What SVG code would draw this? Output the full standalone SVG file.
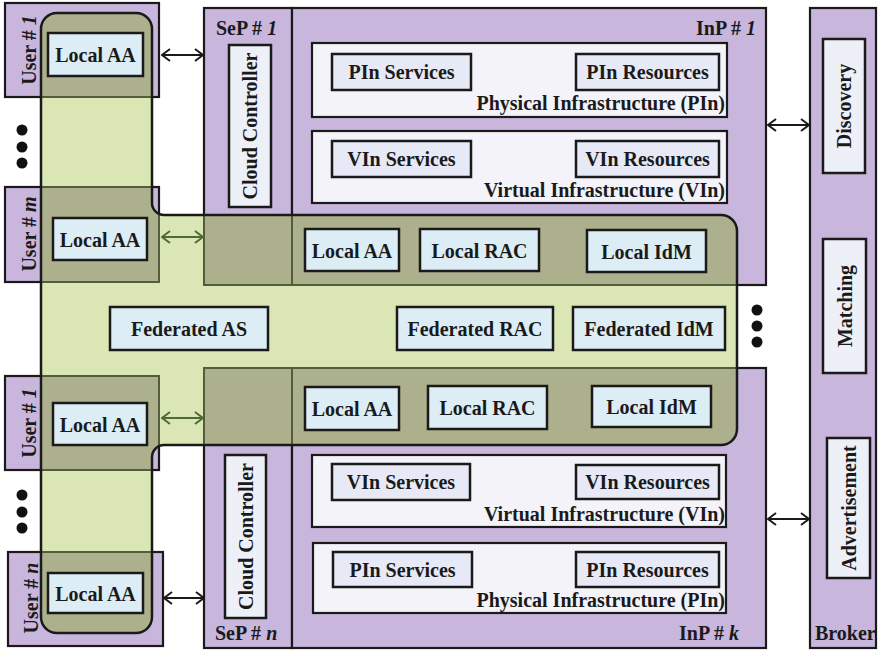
<svg xmlns="http://www.w3.org/2000/svg" width="879" height="651" viewBox="0 0 879 651">
<style>
text{font-family:"Liberation Serif","Times New Roman",serif;font-weight:bold;font-size:20px;fill:#1a1a1a}
.pur{fill:#c9b6dd;stroke:#1a1a1a;stroke-width:2.2}
.pstroke{fill:none;stroke:#1a1a1a;stroke-width:2.2}
.olive{fill:#adb08c}
.ostroke{fill:none;stroke:#535c3b;stroke-width:2}
.infra{fill:#f3f3f9;stroke:#1a1a1a;stroke-width:2.2}
.svc{fill:#e7eaf6;stroke:#1a1a1a;stroke-width:2.5}
.aa{fill:#dcedf5;stroke:#1a1a1a;stroke-width:2.5}
.cc{fill:#eef0f8;stroke:#1a1a1a;stroke-width:2.5}
.c{text-anchor:middle;dominant-baseline:central}
.e{text-anchor:end}
.blk{stroke:#1a1a1a;stroke-width:2;fill:none;marker-start:url(#ab);marker-end:url(#ab)}
.grn{stroke:#4e6b35;stroke-width:2;fill:none;marker-start:url(#ag);marker-end:url(#ag)}
.dot{fill:#111}
</style>
<defs>
<marker id="ab" viewBox="0 0 10 14" refX="9" refY="7" markerWidth="10" markerHeight="14" markerUnits="userSpaceOnUse" orient="auto-start-reverse">
<path d="M1,1 L9,7 L1,13" fill="none" stroke="#1a1a1a" stroke-width="2"/>
</marker>
<marker id="ag" viewBox="0 0 10 14" refX="9" refY="7" markerWidth="10" markerHeight="14" markerUnits="userSpaceOnUse" orient="auto-start-reverse">
<path d="M1,1 L9,7 L1,13" fill="none" stroke="#4e6b35" stroke-width="2"/>
</marker>
<path id="gshape" d="M57,13 H136 A16,16 0 0 1 152,29 V203 A12,12 0 0 0 164,215 H721 A16,16 0 0 1 737,231 V429 A16,16 0 0 1 721,445 H164 A12,12 0 0 0 152,457 V617 A16,16 0 0 1 136,633 H57 A16,16 0 0 1 41,617 V29 A16,16 0 0 1 57,13 Z"/>
<clipPath id="gclip"><use href="#gshape"/></clipPath>
</defs>

<!-- purple containers -->
<g id="containers">
<rect id="user1-top" class="pur" x="5" y="3" width="154" height="94"/>
<rect id="user-m" class="pur" x="5" y="187" width="154" height="95"/>
<rect id="user1-bot" class="pur" x="5" y="376" width="154" height="94"/>
<rect id="user-n" class="pur" x="8" y="552" width="155" height="94"/>
<rect id="sep1" class="pur" x="204" y="8" width="88" height="277"/>
<rect id="inp1" class="pur" x="292" y="8" width="474" height="277"/>
<rect id="sepn" class="pur" x="204" y="368" width="88" height="280"/>
<rect id="inpk" class="pur" x="292" y="368" width="474" height="280"/>
<rect id="broker" class="pur" x="810" y="8" width="66" height="640"/>
</g>

<!-- federation shape -->
<g id="federation">
<use href="#gshape" fill="#dae6b4"/>
<g clip-path="url(#gclip)">
<rect class="olive" x="5" y="3" width="154" height="94"/>
<rect class="olive" x="5" y="187" width="154" height="95"/>
<rect class="olive" x="5" y="376" width="154" height="94"/>
<rect class="olive" x="8" y="552" width="155" height="94"/>
<rect class="olive" x="204" y="8" width="562" height="277"/>
<rect class="olive" x="204" y="368" width="562" height="280"/>
<rect class="ostroke" x="5" y="3" width="154" height="94"/>
<rect class="ostroke" x="5" y="187" width="154" height="95"/>
<rect class="ostroke" x="5" y="376" width="154" height="94"/>
<rect class="ostroke" x="8" y="552" width="155" height="94"/>
<rect class="ostroke" x="204" y="8" width="88" height="277"/>
<rect class="ostroke" x="292" y="8" width="474" height="277"/>
<rect class="ostroke" x="204" y="368" width="88" height="280"/>
<rect class="ostroke" x="292" y="368" width="474" height="280"/>
</g>
<use href="#gshape" fill="none" stroke="#1a1a1a" stroke-width="2.5"/>
</g>

<!-- labels of containers -->
<g id="user-labels">
<text x="36" y="50" transform="rotate(-90 36 50)" text-anchor="middle">User # <tspan font-style="italic">1</tspan></text>
<text x="36" y="234" transform="rotate(-90 36 234)" text-anchor="middle">User # <tspan font-style="italic">m</tspan></text>
<text x="36" y="423" transform="rotate(-90 36 423)" text-anchor="middle">User # <tspan font-style="italic">1</tspan></text>
<text x="38" y="598" transform="rotate(-90 38 598)" text-anchor="middle">User # <tspan font-style="italic">n</tspan></text>
</g>
<g id="provider-labels">
<text x="216" y="35">SeP # <tspan font-style="italic">1</tspan></text>
<text x="756" y="35" class="e">InP # <tspan font-style="italic">1</tspan></text>
<text x="215" y="640">SeP # <tspan font-style="italic">n</tspan></text>
<text x="739" y="640" class="e">InP # <tspan font-style="italic">k</tspan></text>
<text x="815" y="640">Broker</text>
</g>

<!-- user local AA -->
<g id="user1-top-aa"><rect class="aa" x="48" y="33" width="95" height="43"/><text class="c" x="95.5" y="55">Local AA</text></g>
<g id="user-m-aa"><rect class="aa" x="53" y="218" width="94" height="42"/><text class="c" x="100" y="240">Local AA</text></g>
<g id="user1-bot-aa"><rect class="aa" x="53" y="403" width="94" height="42"/><text class="c" x="100" y="425">Local AA</text></g>
<g id="user-n-aa"><rect class="aa" x="48" y="573" width="95" height="40"/><text class="c" x="95.5" y="594">Local AA</text></g>

<!-- cloud controllers -->
<g id="cc1"><rect class="cc" x="229" y="45" width="42" height="162"/><text class="c" x="250" y="126" transform="rotate(-90 250 126)">Cloud Controller</text></g>
<g id="ccn"><rect class="cc" x="225" y="455" width="41" height="163"/><text class="c" x="245.5" y="536.5" transform="rotate(-90 245.5 536.5)">Cloud Controller</text></g>

<!-- InP 1 infrastructure -->
<g id="inp1-pin">
<rect class="infra" x="312" y="43" width="415" height="74"/>
<rect class="svc" x="332" y="54" width="139" height="36"/><text class="c" x="401.5" y="72">PIn Services</text>
<rect class="svc" x="576" y="54" width="143" height="36"/><text class="c" x="647.5" y="72">PIn Resources</text>
<text class="e" x="725" y="110">Physical Infrastructure (PIn)</text>
</g>
<g id="inp1-vin">
<rect class="infra" x="312" y="131" width="415" height="72"/>
<rect class="svc" x="332" y="141" width="139" height="36"/><text class="c" x="401.5" y="159">VIn Services</text>
<rect class="svc" x="576" y="141" width="143" height="36"/><text class="c" x="647.5" y="159">VIn Resources</text>
<text class="e" x="725" y="197">Virtual Infrastructure (VIn)</text>
</g>

<!-- InP k infrastructure -->
<g id="inpk-vin">
<rect class="infra" x="312" y="455" width="414" height="72"/>
<rect class="svc" x="332" y="464" width="138" height="36"/><text class="c" x="401" y="482">VIn Services</text>
<rect class="svc" x="576" y="465" width="143" height="34"/><text class="c" x="647.5" y="482">VIn Resources</text>
<text class="e" x="725" y="521">Virtual Infrastructure (VIn)</text>
</g>
<g id="inpk-pin">
<rect class="infra" x="313" y="543" width="413" height="70"/>
<rect class="svc" x="333" y="552" width="139" height="35"/><text class="c" x="402.5" y="569.5">PIn Services</text>
<rect class="svc" x="576" y="552" width="143" height="35"/><text class="c" x="647.5" y="569.5">PIn Resources</text>
<text class="e" x="725" y="607">Physical Infrastructure (PIn)</text>
</g>

<!-- local components of providers -->
<g id="inp1-local-aa"><rect class="aa" x="305" y="229" width="94" height="42"/><text class="c" x="352" y="251">Local AA</text></g>
<g id="inp1-local-rac"><rect class="aa" x="420" y="229" width="119" height="42"/><text class="c" x="479.5" y="251">Local RAC</text></g>
<g id="inp1-local-idm"><rect class="aa" x="587" y="230" width="119" height="42"/><text class="c" x="646.5" y="252">Local IdM</text></g>
<g id="inpk-local-aa"><rect class="aa" x="305" y="387" width="94" height="43"/><text class="c" x="352" y="409">Local AA</text></g>
<g id="inpk-local-rac"><rect class="aa" x="428" y="386" width="119" height="43"/><text class="c" x="487.5" y="408">Local RAC</text></g>
<g id="inpk-local-idm"><rect class="aa" x="592" y="386" width="119" height="41"/><text class="c" x="651.5" y="407">Local IdM</text></g>

<!-- federated components -->
<g id="fed-as"><rect class="aa" x="110" y="307" width="158" height="43"/><text class="c" x="189" y="329">Federated AS</text></g>
<g id="fed-rac"><rect class="aa" x="397" y="307" width="156" height="43"/><text class="c" x="475" y="329">Federated RAC</text></g>
<g id="fed-idm"><rect class="aa" x="573" y="307" width="152" height="43"/><text class="c" x="649" y="329">Federated IdM</text></g>

<!-- broker functions -->
<g id="discovery"><rect class="cc" x="823" y="39" width="42" height="134"/><text class="c" x="844" y="106" transform="rotate(-90 844 106)">Discovery</text></g>
<g id="matching"><rect class="cc" x="823" y="239" width="43" height="134"/><text class="c" x="844.5" y="306" transform="rotate(-90 844.5 306)">Matching</text></g>
<g id="advertisement"><rect class="cc" x="827" y="438" width="43" height="140"/><text class="c" x="848.5" y="508" transform="rotate(-90 848.5 508)">Advertisement</text></g>

<!-- connectors -->
<g id="connectors">
<line class="blk" x1="162" y1="55" x2="203" y2="55"/>
<line class="grn" x1="162" y1="237" x2="203" y2="237"/>
<line class="grn" x1="162" y1="418" x2="203" y2="418"/>
<line class="blk" x1="164" y1="598" x2="204" y2="598"/>
<line class="blk" x1="768" y1="125" x2="809" y2="125"/>
<line class="blk" x1="768" y1="519" x2="809" y2="519"/>
</g>

<!-- ellipsis dots -->
<g id="dots">
<circle class="dot" cx="22" cy="130" r="5.5"/><circle class="dot" cx="22" cy="147" r="5.5"/><circle class="dot" cx="22" cy="163" r="5.5"/>
<circle class="dot" cx="22" cy="495" r="5.5"/><circle class="dot" cx="22" cy="512" r="5.5"/><circle class="dot" cx="22" cy="528" r="5.5"/>
<circle class="dot" cx="757" cy="310" r="5.5"/><circle class="dot" cx="757" cy="326" r="5.5"/><circle class="dot" cx="757" cy="342" r="5.5"/>
</g>
</svg>
